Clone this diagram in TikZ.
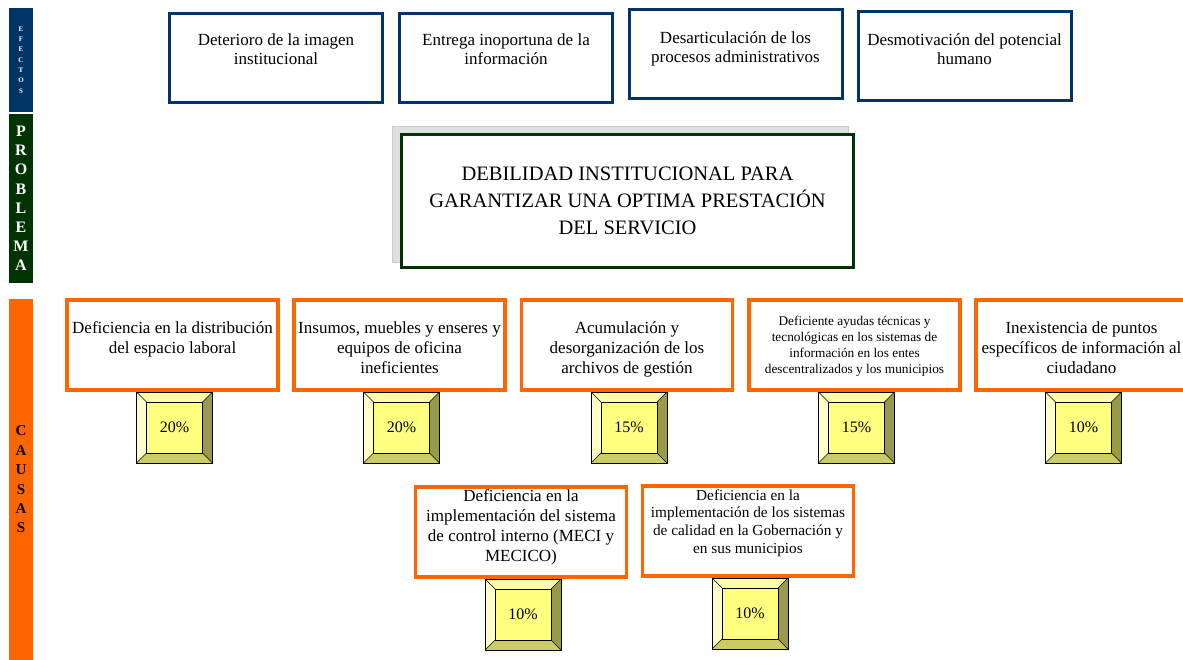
\documentclass[tikz,border=0pt]{standalone}
\usepackage{fontspec}
\setmainfont{Liberation Serif}
\usetikzlibrary{positioning}

\definecolor{azul}{RGB}{0,51,102}
\definecolor{verde}{RGB}{0,51,0}
\definecolor{naranja}{RGB}{255,102,0}
\definecolor{amarillo}{RGB}{255,255,128}
\definecolor{bisup}{RGB}{255,255,166}
\definecolor{bisizq}{RGB}{255,255,200}
\definecolor{bisder}{RGB}{153,153,77}
\definecolor{bisinf}{RGB}{204,204,102}

\begin{document}
\begin{tikzpicture}[
  x=1pt, y=1pt,
  banda/.style={rectangle, minimum width=24pt, inner sep=0pt, align=center},
  efecto/.style={rectangle, draw=azul, line width=3pt, fill=white,
    minimum width=213pt, minimum height=89pt},
  causa/.style={rectangle, draw=naranja, line width=3.5pt, fill=white,
    minimum width=211pt, minimum height=90pt},
  txt/.style={inner sep=0pt, align=center, font=\fontsize{17}{20}\selectfont},
  pct/.style={rectangle, draw, line width=0.6pt, fill=amarillo, xshift=2pt,
    minimum width=76pt, minimum height=71pt, inner sep=0pt,
    font=\fontsize{16}{18}\selectfont,
    path picture={
      \coordinate (nw) at (path picture bounding box.north west);
      \coordinate (ne) at (path picture bounding box.north east);
      \coordinate (se) at (path picture bounding box.south east);
      \coordinate (sw) at (path picture bounding box.south west);
      \fill[bisup] (nw) -- (ne) -- ([shift={(-10pt,-10pt)}]ne) -- ([shift={(10pt,-10pt)}]nw) -- cycle;
      \fill[bisder] (ne) -- (se) -- ([shift={(-10pt,10pt)}]se) -- ([shift={(-10pt,-10pt)}]ne) -- cycle;
      \fill[bisinf] (se) -- (sw) -- ([shift={(10pt,10pt)}]sw) -- ([shift={(-10pt,10pt)}]se) -- cycle;
      \fill[bisizq] (sw) -- (nw) -- ([shift={(10pt,-10pt)}]nw) -- ([shift={(10pt,10pt)}]sw) -- cycle;
      \draw[line width=0.5pt] ([shift={(10pt,-10pt)}]nw) rectangle ([shift={(-10pt,10pt)}]se);
      \draw[line width=0.5pt] (nw) -- ++(10pt,-10pt) (ne) -- ++(-10pt,-10pt)
        (se) -- ++(-10pt,10pt) (sw) -- ++(10pt,10pt);
    }}
]
\useasboundingbox (0,0) rectangle (1183,660);

\node[banda, fill=azul, text=white, minimum height=104pt,
  font=\fontsize{7}{10.3}\selectfont\bfseries] (bef) at (21,600)
  {E\\F\\E\\C\\T\\O\\S};
\node[banda, fill=verde, text=white, minimum height=169pt,
  font=\fontsize{16}{19.2}\selectfont\bfseries] (bpr) at (21,461.5)
  {P\\R\\O\\B\\L\\E\\M\\A};
\node[banda, fill=naranja, text=black, minimum height=361pt,
  font=\fontsize{15}{19.4}\selectfont\bfseries] (bca) at (21,180.5)
  {C\\A\\U\\S\\A\\S};

\node[efecto] (e1) at (276,602) {};
\node[txt, font=\fontsize{17}{18.5}\selectfont, below=22pt of e1.north] (e1t)
  {Deterioro de la imagen\\institucional};
\node[efecto] (e2) at (506,602) {};
\node[txt, font=\fontsize{17}{18.5}\selectfont, below=22pt of e2.north] (e2t)
  {Entrega inoportuna de la\\información};
\node[efecto] (e3) at (735.5,605.5) {};
\node[txt, font=\fontsize{17}{18.5}\selectfont, below=23pt of e3.north] (e3t)
  {Desarticulación de los\\procesos administrativos};
\node[efecto] (e4) at (964.5,603.5) {};
\node[txt, font=\fontsize{17}{18.5}\selectfont, below=23pt of e4.north] (e4t)
  {Desmotivación del potencial\\humano};

\node[rectangle, fill=black!12, draw=black!20, minimum width=456pt,
  minimum height=136pt] (sombra) at (620,466) {};
\node[rectangle, draw=verde, line width=3pt, fill=white, minimum width=452pt,
  minimum height=133pt, align=center, font=\fontsize{20.5}{27}\selectfont] (prob) at (627.5,459)
  {DEBILIDAD INSTITUCIONAL PARA\\GARANTIZAR UNA OPTIMA PRESTACIÓN\\DEL SERVICIO};

\node[causa] (c1) at (172.5,315) {};
\node[txt, below=23pt of c1.north] (c1t)
  {Deficiencia en la distribución\\del espacio laboral};
\node[causa] (c2) at (399.5,315) {};
\node[txt, below=23pt of c2.north] (c2t)
  {Insumos, muebles y enseres y\\equipos de oficina\\ineficientes};
\node[causa] (c3) at (627,315) {};
\node[txt, below=23pt of c3.north] (c3t)
  {Acumulación y\\desorganización de los\\archivos de gestión};
\node[causa] (c4) at (854.5,315) {};
\node[txt, font=\fontsize{13.3}{16}\selectfont, below=18pt of c4.north] (c4t)
  {Deficiente ayudas técnicas y\\tecnológicas en los sistemas de\\información en los entes\\descentralizados y los municipios};
\node[causa] (c5) at (1081.5,315) {};
\node[txt, below=23pt of c5.north] (c5t)
  {Inexistencia de puntos\\específicos de información al\\ciudadano};
\node[causa] (c6) at (521,128) {};
\node[txt, below=4pt of c6.north] (c6t)
  {Deficiencia en la\\implementación del sistema\\de control interno (MECI y\\MECICO)};
\node[causa] (c7) at (748,129) {};
\node[txt, font=\fontsize{15.3}{17.7}\selectfont, below=5pt of c7.north] (c7t)
  {Deficiencia en la\\implementación de los sistemas\\de calidad en la Gobernación y\\en sus municipios};

\node[pct, below=0pt of c1] (p1) {20\%};
\node[pct, below=0pt of c2] (p2) {20\%};
\node[pct, below=0pt of c3] (p3) {15\%};
\node[pct, below=0pt of c4] (p4) {15\%};
\node[pct, below=0pt of c5] (p5) {10\%};
\node[pct, below=0pt of c6] (p6) {10\%};
\node[pct, below=0pt of c7] (p7) {10\%};
\end{tikzpicture}
\end{document}
